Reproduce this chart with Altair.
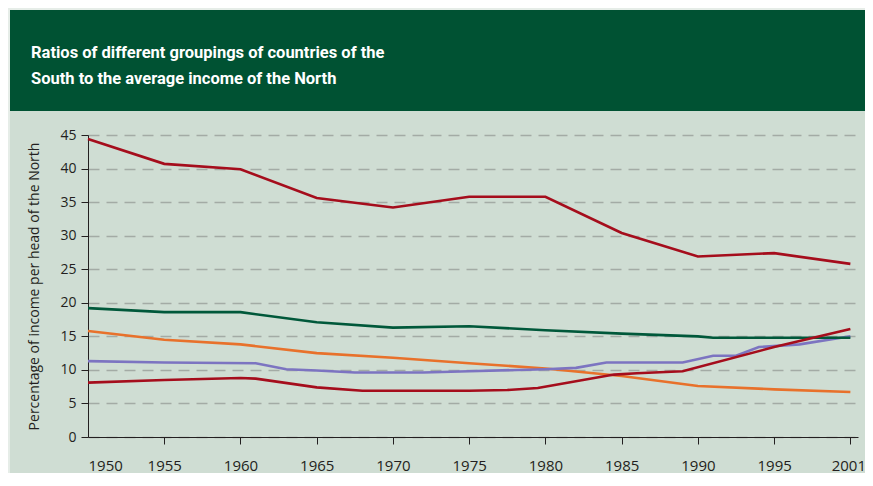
import altair as alt
import pandas as pd

# ---- text ----
title_line1 = "Ratios of different groupings of countries of the"
title_line2 = "South to the average income of the North"
y_title = "Percentage of income per head of the North"

# ---- axes ----
x_tick_years = [1950, 1955, 1960, 1965, 1970, 1975, 1980, 1985, 1990, 1995, 2001]
y_ticks = [0, 5, 10, 15, 20, 25, 30, 35, 40, 45]

# ---- series ----
orange_years = [1950, 1955, 1960, 1965, 1970, 1975, 1980, 1985, 1990, 1995, 2001]
orange_vals = [15.8, 14.5, 13.8, 12.5, 11.8, 11.0, 10.2, 9.1, 7.6, 7.1, 6.7]

purple_years = [1950, 1955, 1961, 1963, 1965, 1967.5, 1972, 1975, 1980, 1982, 1984, 1989, 1991, 1992.5, 1994, 1997, 2001]
purple_vals = [11.3, 11.1, 11.0, 10.1, 9.9, 9.6, 9.6, 9.8, 10.1, 10.3, 11.1, 11.1, 12.1, 12.1, 13.4, 13.8, 15.0]

green_years = [1950, 1955, 1960, 1965, 1970, 1975, 1980, 1985, 1990, 1991, 2001]
green_vals = [19.2, 18.6, 18.6, 17.1, 16.3, 16.5, 15.9, 15.4, 15.0, 14.8, 14.8]

lowred_years = [1950, 1955, 1960, 1961, 1965, 1968, 1975, 1977.5, 1979.5, 1984.5, 1986, 1989, 1995, 2001]
lowred_vals = [8.1, 8.5, 8.8, 8.7, 7.4, 6.9, 6.9, 7.0, 7.3, 9.3, 9.5, 9.8, 13.4, 16.1]

topred_years = [1950, 1955, 1960, 1965, 1970, 1975, 1980, 1985, 1990, 1995, 2001]
topred_vals = [44.4, 40.7, 39.9, 35.6, 34.2, 35.8, 35.8, 30.4, 26.9, 27.4, 25.8]

series = [
    ("Group D", orange_years, orange_vals, "#e8712b"),
    ("Group C", purple_years, purple_vals, "#7c74c1"),
    ("Group B", green_years, green_vals, "#00583a"),
    ("Group E", lowred_years, lowred_vals, "#a50d1c"),
    ("Group A", topred_years, topred_vals, "#a50d1c"),
]

rows = []
for order, (name, yrs, vals, _) in enumerate(series):
    for yr, v in zip(yrs, vals):
        rows.append({"group": name, "year": yr, "value": v, "order": order})
df = pd.DataFrame(rows)

# the axis is evenly spaced per label, so 1995-2001 occupies one step
def to_pos(y):
    return y if y <= 1995 else 1995 + (y - 1995) * 5 / 6

x_tick_pos = [to_pos(y) for y in x_tick_years]

TEXT = "#231f20"
PANEL = "#cfddd3"
FRAME = "#e6ede8"
BAND = "#005233"
TITLE_FONT = "Roboto"

lines = (
    alt.Chart(df)
    .transform_calculate(pos="datum.year <= 1995 ? datum.year : 1995 + (datum.year - 1995) * 5 / 6")
    .mark_line(strokeWidth=2.6)
    .encode(
        x=alt.X(
            "pos:Q",
            scale=alt.Scale(domain=[1950, 2000.5], nice=False, zero=False),
            axis=alt.Axis(
                values=x_tick_pos,
                format="d",
                labelExpr="datum.value <= 1995 ? datum.label : '' + round(1995 + (datum.value - 1995) * 6 / 5)",
                title=None,
                grid=False,
                tickSize=7,
                tickOpacity={"condition": {"test": "datum.value <= 1950", "value": 0}, "value": 1},
                labelOffset={"condition": {"test": "datum.value >= 2000", "value": -2}, "value": 0},
                labelPadding=14,
                labelFont="Open Sans",
                labelFontSize=15,
                labelColor=TEXT,
                domainColor=TEXT,
                tickColor=TEXT,
                domainWidth=1,
                tickWidth=1,
            ),
        ),
        y=alt.Y(
            "value:Q",
            scale=alt.Scale(domain=[0, 45], nice=False),
            axis=alt.Axis(
                values=y_ticks,
                title=y_title,
                grid=True,
                gridDash=[11, 7],
                gridColor="#a3aba5",
                gridWidth=1.5,
                tickSize=7,
                labelPadding=5,
                labelFont="Open Sans",
                labelFontSize=14,
                labelColor=TEXT,
                domainColor=TEXT,
                tickColor=TEXT,
                domainWidth=1,
                tickWidth=1,
                titleFont="Open Sans",
                titleFontSize=14,
                titleFontWeight="normal",
                titleColor=TEXT,
                titleAngle=270,
                titleX=-50,
                titleY=151,
                titleAlign="center",
                titleBaseline="alphabetic",
            ),
        ),
        color=alt.Color(
            "group:N",
            scale=alt.Scale(domain=[s[0] for s in series], range=[s[3] for s in series]),
            legend=None,
        ),
        detail="group:N",
        order="year:Q",
    )
)

one = alt.Data(values=[{}])

band = alt.Chart(one).mark_rect(color=BAND).encode(
    x=alt.value(-78), x2=alt.value(800), y=alt.value(-125), y2=alt.value(-24)
)
frame_top = alt.Chart(one).mark_rect(color=FRAME).encode(
    x=alt.value(-80), x2=alt.value(800), y=alt.value(-127), y2=alt.value(-125)
)
frame_left = alt.Chart(one).mark_rect(color=FRAME).encode(
    x=alt.value(-80), x2=alt.value(-78), y=alt.value(-127), y2=alt.value(345)
)

t1 = alt.Chart(one).mark_text(
    align="left", baseline="alphabetic", color="white",
    font=TITLE_FONT, fontWeight="bold", fontSize=16.5,
).encode(x=alt.value(-57), y=alt.value(-77), text=alt.value(title_line1))
t2 = alt.Chart(one).mark_text(
    align="left", baseline="alphabetic", color="white",
    font=TITLE_FONT, fontWeight="bold", fontSize=16.5,
).encode(x=alt.value(-57), y=alt.value(-51), text=alt.value(title_line2))

chart = (
    alt.layer(band, frame_top, frame_left, t1, t2, lines)
    .properties(
        width=770,
        height=302,
        autosize=alt.AutoSizeParams(type="none"),
        padding={"left": 80, "top": 127, "right": 7, "bottom": 36},
    )
    .configure(background=PANEL)
    .configure_view(stroke=None)
)

chart.save("out.html", embed_options={"renderer": "svg", "actions": False})
